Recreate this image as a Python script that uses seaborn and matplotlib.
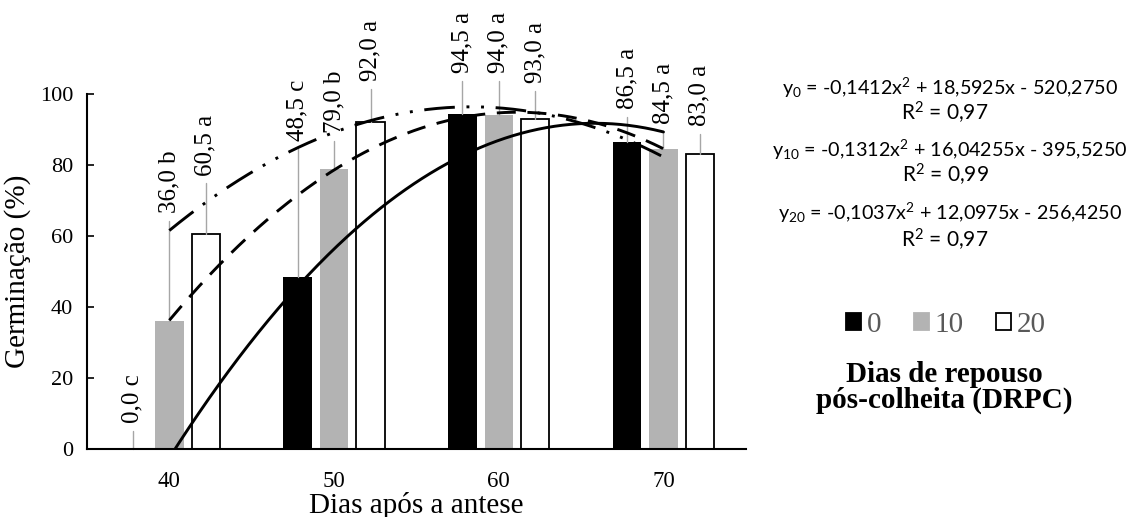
import numpy as np
import pandas as pd
import matplotlib
matplotlib.use("Agg")
import matplotlib.pyplot as plt
import matplotlib.patches as mpatches
import seaborn as sns

# ---------------- data ----------------
dias = [40, 50, 60, 70]
drpc = ["0", "10", "20"]
germ_0 = [0.0, 48.5, 94.5, 86.5]
germ_10 = [36.0, 79.0, 94.0, 84.5]
germ_20 = [60.5, 92.0, 93.0, 83.0]
letras_0 = ["c", "c", "a", "a"]
letras_10 = ["b", "b", "a", "a"]
letras_20 = ["a", "a", "a", "a"]
# quadratic trendline coefficients (a, b, c): y = a x^2 + b x + c
coef_0 = [-0.1412, 18.5925, -520.2750]
coef_10 = [-0.1312, 16.04255, -395.5250]
coef_20 = [-0.1037, 12.0975, -256.4250]
r2 = ["0,97", "0,99", "0,97"]
eq_text = [
    r"y$_{0}$ = -0,1412x$^{2}$ + 18,5925x - 520,2750",
    r"y$_{10}$ = -0,1312x$^{2}$ + 16,04255x - 395,5250",
    r"y$_{20}$ = -0,1037x$^{2}$ + 12,0975x - 256,4250",
]

# label placement (layout, data-y of the label's lower end)
lab_pos_0 = [7.3, 86.8, 106.0, 95.8]
lab_pos_10 = [66.5, 89.0, 106.0, 91.5]
lab_pos_20 = [77.0, 103.7, 103.0, 91.0]

# ---------------- style ----------------
sns.set_theme(style="white")
plt.rcParams["font.family"] = ["Liberation Serif", "DejaVu Serif"]
plt.rcParams["mathtext.fontset"] = "custom"
plt.rcParams["mathtext.rm"] = "Lato"
plt.rcParams["mathtext.it"] = "Lato:italic"
plt.rcParams["mathtext.bf"] = "Lato:bold"

colors = ["#000000", "#b3b3b3", "#ffffff"]

df = pd.DataFrame({
    "dia": [str(d) for d in dias] * 3,
    "drpc": sum([[h] * len(dias) for h in drpc], []),
    "germ": germ_0 + germ_10 + germ_20,
})

fig = plt.figure(figsize=(11.34, 5.17), dpi=100)
ax = fig.add_axes([0.0767, 0.1315, 0.581, 0.6866])

sns.barplot(data=df, x="dia", y="germ", hue="drpc", hue_order=drpc,
            palette=colors, width=0.664, gap=0.22, ax=ax, legend=False,
            saturation=1, errorbar=None)

for cont, col in zip(ax.containers, colors):
    for bar in cont:
        if col == "#ffffff":
            bar.set_edgecolor("black")
            bar.set_linewidth(1.3)
        else:
            bar.set_edgecolor("none")
            bar.set_linewidth(0)

# value labels with leader lines
vals = [germ_0, germ_10, germ_20]
lets = [letras_0, letras_10, letras_20]
poss = [lab_pos_0, lab_pos_10, lab_pos_20]
for cont, v, l, p in zip(ax.containers, vals, lets, poss):
    for bar, vi, li, pi in zip(cont, v, l, p):
        xc = bar.get_x() + bar.get_width() / 2
        ax.plot([xc, xc], [vi, pi - 2.2], color="#a6a6a6", lw=1.0,
                clip_on=False, zorder=1)
        txt = f"{vi:.1f}".replace(".", ",") + " " + li
        ax.text(xc, pi, txt, rotation=90, ha="center", va="bottom",
                fontsize=18, color="black", clip_on=False)

# trend curves
xd = np.linspace(40, 70, 300)
xpos = (xd - dias[0]) / (dias[1] - dias[0])
styles = [
    "-",
    (0, (6.5, 4)),
    (0, (10.5, 4, 1.0, 4, 1.0, 4)),
]
for coef, ls in zip([coef_0, coef_10, coef_20], styles):
    yv = np.polyval(coef, xd)
    ax.plot(xpos, yv, color="black", lw=2.1, ls=ls, zorder=5)

ax.set_xlim(-0.5, 3.5)
ax.set_ylim(0, 100)
ax.set_yticks([0, 20, 40, 60, 80, 100])
ax.tick_params(axis="y", direction="in", length=5, width=1.2, labelsize=16,
               colors="black", pad=10, left=True)
ax.tick_params(axis="x", length=0, labelsize=16.5, colors="black", pad=16)
for s in ["top", "right"]:
    ax.spines[s].set_visible(False)
for s in ["left", "bottom"]:
    ax.spines[s].set_color("black")
    ax.spines[s].set_linewidth(1.5)
ax.set_xlabel("Dias após a antese", fontsize=21, color="black", labelpad=0)
ax.set_ylabel("Germinação (%)", fontsize=21, color="black", labelpad=6)

# equations
W, H = 1134, 517
eq_y = [88, 150, 213]
r2_y = [113, 175, 240]
for e, yy, r, ry in zip(eq_text, eq_y, r2, r2_y):
    fig.text(950 / W, 1 - yy / H, e, ha="center", va="center",
             fontsize=14.2, family="Lato", color="black")
    fig.text(945 / W, 1 - ry / H, r"R$^{2}$ = " + r, ha="center",
             va="center", fontsize=15, family="Lato", color="black")

# legend
handles = [mpatches.Patch(facecolor=c, edgecolor=("black" if c == "#ffffff" else c),
                          linewidth=1.3) for c in colors]
leg = fig.legend(handles, drpc, loc="center", bbox_to_anchor=(946 / W, 1 - 325 / H),
                 ncol=3, frameon=False, fontsize=21, handlelength=0.52,
                 handleheight=0.52, handletextpad=0.2, columnspacing=1.1,
                 labelcolor="#595959")
fig.text(944 / W, 1 - 375 / H, "Dias de repouso", ha="center", va="center",
         fontsize=21, fontweight="bold", color="black")
fig.text(944 / W, 1 - 400 / H, "pós-colheita (DRPC)", ha="center", va="center",
         fontsize=21, fontweight="bold", color="black")

fig.savefig("out.png", dpi=100)
